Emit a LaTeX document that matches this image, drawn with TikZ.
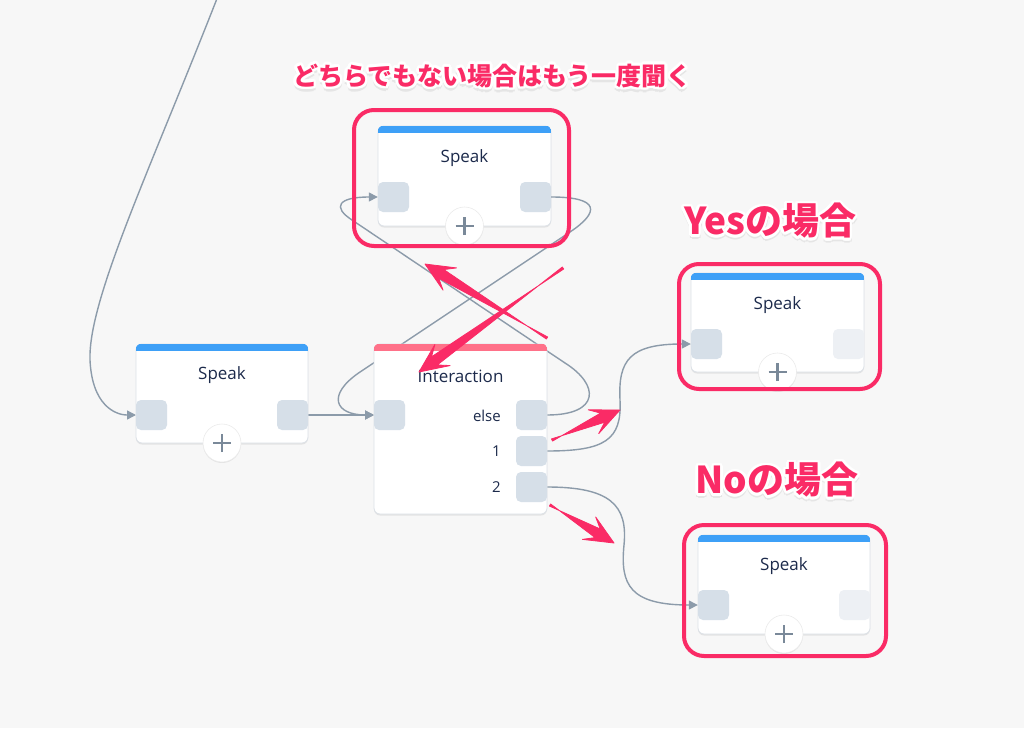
\documentclass[tikz,border=0pt]{standalone}
\usepackage{fontspec}
\setmainfont{Open Sans}
\newfontfamily\cjk{Noto Sans CJK JP}
\usetikzlibrary{arrows.meta,calc,shadows}
\definecolor{bg}{HTML}{F7F7F7}
\definecolor{connc}{HTML}{8C9BAA}
\definecolor{portc}{HTML}{D6DFE8}
\definecolor{portl}{HTML}{EDF0F4}
\definecolor{barblue}{HTML}{3EA0F7}
\definecolor{barpink}{HTML}{FF7189}
\definecolor{navy}{HTML}{1C2A4B}
\definecolor{pk}{HTML}{FA2B66}
\definecolor{cardline}{HTML}{DCE1E7}
\definecolor{plusc}{HTML}{7A8999}
\newcommand\hcp[3]{\rlap{\kern#2\raise#3\hbox{\color{#1}\copy0}}}
\newcommand\halo[1]{\setbox0=\hbox{#1}%
 \hcp{black!10}{0pt}{-4pt}\hcp{black!10}{2pt}{-4pt}\hcp{black!10}{-2pt}{-4pt}\hcp{black!10}{0pt}{-5pt}%
 \hcp{white}{2.6pt}{0pt}\hcp{white}{-2.6pt}{0pt}\hcp{white}{0pt}{2.6pt}\hcp{white}{0pt}{-2.6pt}%
 \hcp{white}{1.84pt}{1.84pt}\hcp{white}{-1.84pt}{1.84pt}\hcp{white}{1.84pt}{-1.84pt}\hcp{white}{-1.84pt}{-1.84pt}%
 \hcp{white}{2.4pt}{1pt}\hcp{white}{-2.4pt}{1pt}\hcp{white}{2.4pt}{-1pt}\hcp{white}{-2.4pt}{-1pt}%
 \hcp{white}{1pt}{2.4pt}\hcp{white}{-1pt}{2.4pt}\hcp{white}{1pt}{-2.4pt}\hcp{white}{-1pt}{-2.4pt}%
 \hbox{\color{pk}\copy0}}
\newcommand\cardbar[2]{\begin{scope}
 \clip[rounded corners=6pt] (#1.south west) rectangle (#1.north east);
 \fill[#2] ([yshift=-7pt]#1.north west) rectangle (#1.north east);
 \end{scope}}
\newcommand\pkarrow[2]{%
 \filldraw[pk, line join=round, line width=0.8pt]
  ($(#1)!1.2pt!90:(#2)$) --
  ($(#2)!19pt!(#1)!5pt!90:(#1)$) --
  ($(#2)!29pt!(#1)!13pt!90:(#1)$) -- (#2) --
  ($(#2)!29pt!(#1)!13pt!-90:(#1)$) --
  ($(#2)!19pt!(#1)!5pt!-90:(#1)$) --
  ($(#1)!1.2pt!-90:(#2)$) -- cycle;}
\tikzset{
 card/.style={draw=cardline, fill=white, rounded corners=6pt, line width=0.8pt,
   inner sep=0pt, minimum width=172pt, minimum height=99pt,
   drop shadow={shadow xshift=0pt, shadow yshift=-1.5pt, opacity=0.08, fill=black}},
 port/.style={fill=portc, rounded corners=5pt, inner sep=0pt, minimum width=31pt, minimum height=30pt},
 portlight/.style={port, fill=portl},
 plusnode/.style={circle, fill=white, draw=black!8, line width=0.6pt, minimum size=38pt, inner sep=0pt,
   drop shadow={shadow xshift=0pt, shadow yshift=-1pt, opacity=0.08, fill=black}},
 plusline/.style={draw=plusc, line width=2.2pt},
 title/.style={text=navy, font=\fontsize{17}{20}\selectfont, inner sep=0pt},
 portlab/.style={text=navy, font=\fontsize{15}{18}\selectfont, inner sep=0pt, anchor=east},
 conn/.style={draw=connc, line width=1.4pt, -{Triangle[length=9pt,width=9pt]}},
 hl/.style={draw=pk, line width=4pt, rounded corners=20pt},
 labsmall/.style={inner sep=0pt, font=\cjk\bfseries\fontsize{25}{28}\selectfont},
 labbig/.style={inner sep=0pt, font=\cjk\bfseries\fontsize{37}{40}\selectfont},
}
\begin{document}
\begin{tikzpicture}[x=1pt,y=-1pt]
\useasboundingbox (0,0) rectangle (1024,728);
\fill[bg] (0,0) rectangle (1024,728);

% cards
\node[card, minimum width=173pt, minimum height=100pt] (sTop) at (464.5,176) {};
\node[card, minimum width=173pt] (sYes) at (777.5,322.5) {};
\node[card] (sNo) at (784,584.5) {};
\cardbar{sTop}{barblue}
\cardbar{sYes}{barblue}
\cardbar{sNo}{barblue}

% port anchors of the two lower-left cards (cards drawn later, above connectors)
\coordinate (sA-in) at (136,415);
\coordinate (sA-out) at (308,415);
\coordinate (inter-in) at (374,415);
\coordinate (inter-else) at (547,415);
\coordinate (inter-one) at (547,451);
\coordinate (inter-two) at (547,487);

\node[port] (sTop-in) at (393.5,197) {};
\node[port] (sTop-out) at (535.5,197) {};
\node[port] (sYes-in) at (706.5,344) {};
\node[portlight] (sYes-out) at (848.5,344) {};
\node[port] (sNo-in) at (713.5,605) {};
\node[portlight] (sNo-out) at (854.5,605) {};

\coordinate (topin) at (218,-4);

% connectors
\draw[conn] (topin) .. controls (150,170) and (88,300) .. (90,360) .. controls (92,405) and (115,415) .. (sA-in);
\draw[conn] (sA-out) -- (inter-in);
\draw[conn] (inter-else) .. controls (600,415) and (600,385) .. (565,363) -- (352,220) .. controls (332,207) and (338,197) .. (sTop-in.west);
\draw[conn] (sTop-out.east) .. controls (600,197) and (600,212) .. (570,232) -- (360,372) .. controls (326,395) and (335,415) .. (inter-in);
\draw[conn] (inter-one) .. controls (605,451) and (622,440) .. (620,400) .. controls (618,360) and (630,344) .. (sYes-in.west);
\draw[conn] (inter-two) .. controls (610,487) and (628,505) .. (624,545) .. controls (620,585) and (630,605) .. (sNo-in.west);

% lower-left cards over the connectors
\node[card] (sA) at (222,393.5) {};
\node[card, minimum width=173pt, minimum height=170pt] (inter) at (460.5,429) {};
\cardbar{sA}{barblue}
\cardbar{inter}{barpink}
\node[port] (sA-inp) at (151.5,415) {};
\node[port] (sA-outp) at (292.5,415) {};
\node[port] (inter-inp) at (389.5,415) {};
\node[port] (inter-elsep) at (531.5,415) {};
\node[port] (inter-onep) at (531.5,451) {};
\node[port] (inter-twop) at (531.5,487) {};

% plus buttons
\foreach \n/\x/\y in {pA/222/443, pTop/464.5/226, pYes/777.5/372, pNo/784/634}{
  \node[plusnode] (\n) at (\x,\y) {};
  \draw[plusline] ([xshift=-9pt]\n.center) -- ([xshift=9pt]\n.center);
  \draw[plusline] ([yshift=-9pt]\n.center) -- ([yshift=9pt]\n.center);
}

% texts
\node[title] (tA) at (222,375) {Speak};
\node[title] (tTop) at (464.5,158) {Speak};
\node[title] (tYes) at (777.5,305) {Speak};
\node[title] (tNo) at (784,566) {Speak};
\node[title] (tInter) at (460.5,376) {Interaction};
\node[portlab] (lElse) at (501,416) {else};
\node[portlab] (lOne) at (501,451) {1};
\node[portlab] (lTwo) at (501,487) {2};

% highlight frames
\draw[hl] (354,110) rectangle (569,246);
\draw[hl] (679,264) rectangle (880,389);
\draw[hl] (684,525) rectangle (886,656);

% annotation arrows
\coordinate (a1t) at (547,338); \coordinate (a1h) at (425,264);
\coordinate (a2t) at (563,268); \coordinate (a2h) at (419,372);
\coordinate (a3t) at (552,440); \coordinate (a3h) at (620,410);
\coordinate (a4t) at (550,505); \coordinate (a4h) at (614,543);
\pkarrow{a1t}{a1h}
\pkarrow{a2t}{a2h}
\pkarrow{a3t}{a3h}
\pkarrow{a4t}{a4h}

% labels
\node[labsmall] (labTop) at (492.5,77) {\halo{どちらでもない場合はもう一度聞く}};
\node[labbig] (labYes) at (770,222) {\halo{Yesの場合}};
\node[labbig] (labNo) at (777,481) {\halo{Noの場合}};
\end{tikzpicture}
\end{document}
